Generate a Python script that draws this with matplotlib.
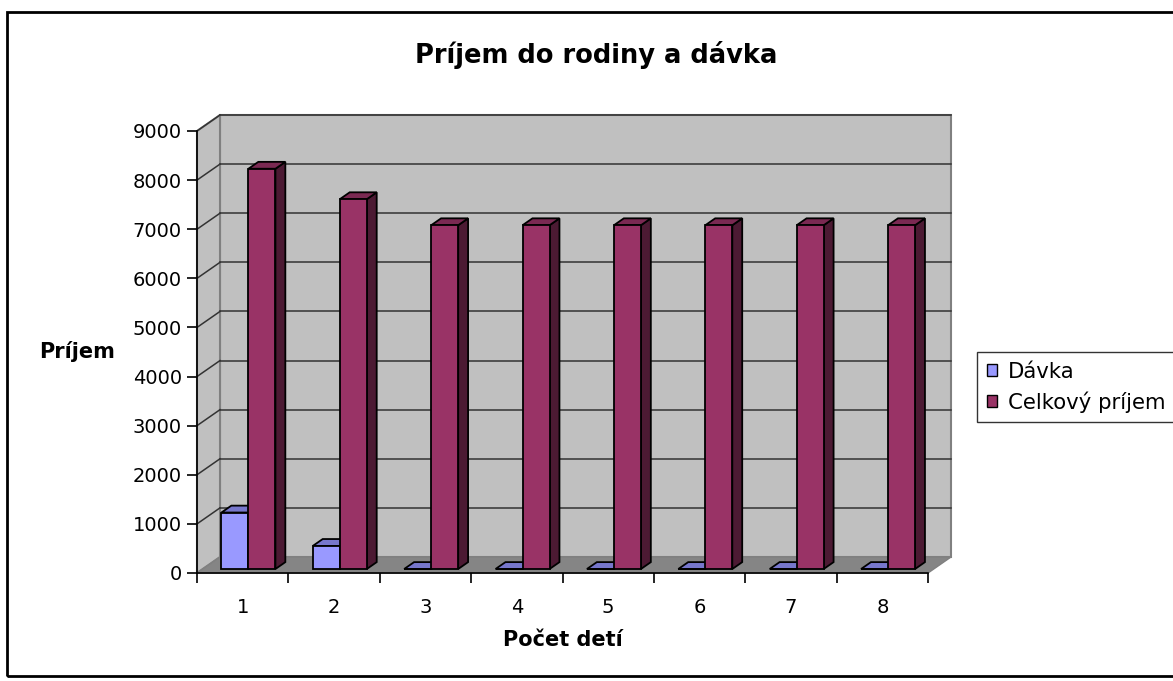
import matplotlib
matplotlib.use("Agg")
import matplotlib.pyplot as plt
from matplotlib.patches import Polygon, Rectangle, Patch
from matplotlib.lines import Line2D

# ---- data ----
categories = ["1", "2", "3", "4", "5", "6", "7", "8"]
davka = [1150, 470, 0, 0, 0, 0, 0, 0]
celkovy = [8150, 7530, 7000, 7000, 7000, 7000, 7000, 7000]
series_names = ["Dávka", "Celkový príjem"]
yticks = [0, 1000, 2000, 3000, 4000, 5000, 6000, 7000, 8000, 9000]
title = "Príjem do rodiny a dávka"
xlabel = "Počet detí"
ylabel = "Príjem"

plt.rcParams['font.family'] = ['DejaVu Sans']

W, H = 1173, 681
fig = plt.figure(figsize=(W / 100, H / 100), dpi=100)
fig.patch.set_facecolor("white")

# axes in pixel placement
x0p, x1p, y0p, y1p = 197, 928, 573, 131
ax = fig.add_axes([x0p / W, (H - y0p) / H, (x1p - x0p) / W, (y0p - y1p) / H])
ax.set_facecolor("none")
n = len(categories)
ax.set_xlim(0.5, n + 0.5)
ax.set_ylim(0, 9000)

pxx = (x1p - x0p) / n            # px per category unit
pxy = (y0p - y1p) / 9000.0       # px per value unit
DX = 23 / pxx                    # depth offset (x, data units)
DY = 16 / pxy                    # depth offset (y, data units)

wall_c = "#C0C0C0"
floor_c = "#858585"
edge_c = "#808080"
grid_c = "#333333"
xa, xb = 0.5, n + 0.5
ytop = 9000

# back wall
ax.add_patch(Polygon([(xa + DX, DY), (xb + DX, DY), (xb + DX, ytop + DY), (xa + DX, ytop + DY)],
                     closed=True, facecolor=wall_c, edgecolor=edge_c, lw=1.5, clip_on=False, zorder=1))
# left wall
ax.add_patch(Polygon([(xa, 0), (xa + DX, DY), (xa + DX, ytop + DY), (xa, ytop)],
                     closed=True, facecolor=wall_c, edgecolor=edge_c, lw=1.5, clip_on=False, zorder=1))
# floor
ax.add_patch(Polygon([(xa, 0), (xb, 0), (xb + DX, DY), (xa + DX, DY)],
                     closed=True, facecolor=floor_c, edgecolor=edge_c, lw=1.0, clip_on=False, zorder=1.5))
# gridlines
for v in yticks[1:]:
    ax.add_line(Line2D([xa + DX, xb + DX], [v + DY, v + DY], color=grid_c, lw=1.1, clip_on=False, zorder=2))
    ax.add_line(Line2D([xa, xa + DX], [v, v + DY], color=grid_c, lw=1.1, clip_on=False, zorder=2))

# bars
bw = 27 / pxx
f0, f1 = 0.25, 0.68
colors = [
    ("#9999FF", "#7777CC", "#4D4D99"),
    ("#993366", "#7A2952", "#4C1A33"),
]


def draw_bar(xl, val, fc, tc, sc, z):
    ox0, oy0 = f0 * DX, f0 * DY
    ox1, oy1 = f1 * DX, f1 * DY
    xr = xl + bw
    kw = dict(closed=True, edgecolor="black", lw=1.3, clip_on=False, zorder=z)
    # side
    ax.add_patch(Polygon([(xr + ox0, oy0), (xr + ox1, oy1), (xr + ox1, val + oy1), (xr + ox0, val + oy0)],
                         facecolor=sc, **kw))
    # top
    ax.add_patch(Polygon([(xl + ox0, val + oy0), (xr + ox0, val + oy0), (xr + ox1, val + oy1), (xl + ox1, val + oy1)],
                         facecolor=tc, **kw))
    # front
    ax.add_patch(Polygon([(xl + ox0, oy0), (xr + ox0, oy0), (xr + ox0, val + oy0), (xl + ox0, val + oy0)],
                         facecolor=fc, **kw))


for i in range(n):
    c = i + 1
    draw_bar(c - bw, davka[i], *colors[0], z=3 + i * 0.1)
    draw_bar(c, celkovy[i], *colors[1], z=3.05 + i * 0.1)

# axes styling
for s in ["top", "right"]:
    ax.spines[s].set_visible(False)
ax.spines["left"].set_linewidth(1.2)
ax.spines["bottom"].set_linewidth(1.2)
ax.spines["left"].set_zorder(6)
ax.spines["bottom"].set_zorder(6)
ax.set_yticks(yticks)
ax.set_yticklabels([str(v) for v in yticks])
ax.tick_params(axis="y", direction="out", length=7, width=1.2, pad=4, labelsize=14)
ax.set_xticks([i + 0.5 for i in range(n + 1)])
ax.set_xticklabels([])
ax.set_xticks(range(1, n + 1), minor=True)
ax.set_xticklabels(categories, minor=True)
ax.tick_params(axis="x", which="major", direction="out", length=7, width=1.2)
ax.tick_params(axis="x", which="minor", length=0, pad=18, labelsize=14)

# texts
fig.text(596 / W, 1 - 55 / H, title, ha="center", va="center", fontsize=18.5, fontweight="bold")
fig.text(77 / W, 1 - 352 / H, ylabel, ha="center", va="center", fontsize=15, fontweight="bold")
fig.text(563 / W, 1 - 640 / H, xlabel, ha="center", va="center", fontsize=15, fontweight="bold")

# legend
handles = [Patch(facecolor=colors[0][0], edgecolor="black", lw=1.0),
           Patch(facecolor=colors[1][0], edgecolor="black", lw=1.0)]
leg = fig.legend(handles, series_names, loc="upper left", bbox_to_anchor=(977 / W, 1 - 352 / H),
                 fontsize=15.3, frameon=True, fancybox=False, edgecolor="black",
                 handlelength=0.5, handleheight=0.5, handletextpad=0.5, borderpad=0.45,
                 labelspacing=0.45, borderaxespad=0)
leg.get_frame().set_linewidth(1.0)

# outer frame
fig.add_artist(Rectangle((7 / W, 5 / H), 1.2, 1 - 17 / H, transform=fig.transFigure,
                         fill=False, edgecolor="black", lw=2))

fig.savefig("out.png", dpi=100)
